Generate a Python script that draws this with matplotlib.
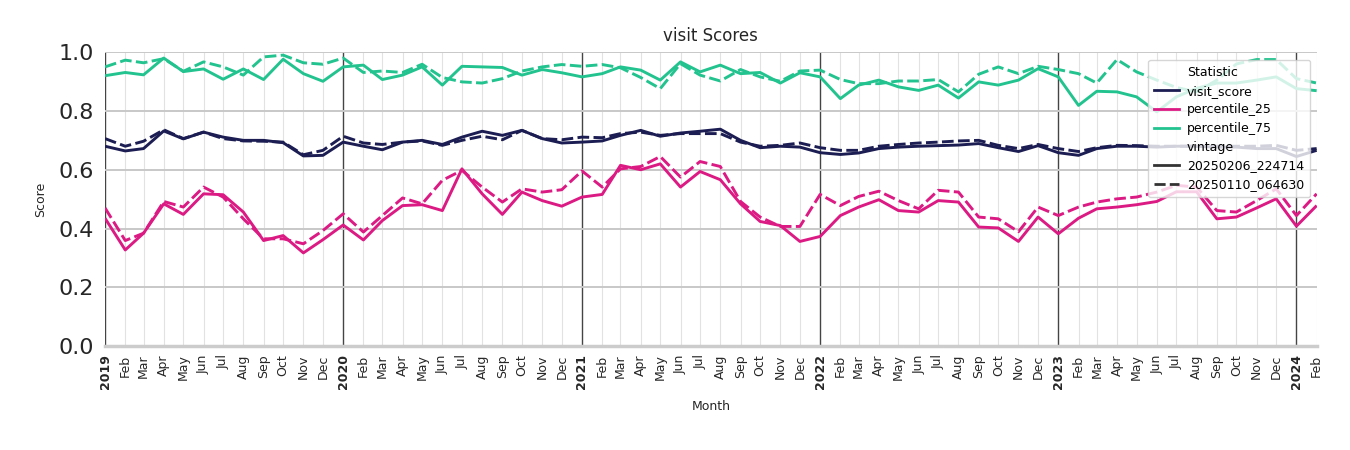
import matplotlib
matplotlib.use("Agg")
import matplotlib.pyplot as plt
import matplotlib.dates as mdates
from matplotlib.lines import Line2D
import pandas as pd

months = pd.date_range("2019-01-01", "2024-02-01", freq="MS")

visit_new = [0.68, 0.664, 0.672, 0.732, 0.705, 0.728, 0.711, 0.700, 0.700, 0.692, 0.647, 0.649,
             0.694, 0.680, 0.668, 0.694, 0.700, 0.686, 0.711, 0.731, 0.717, 0.734, 0.706, 0.691,
             0.694, 0.698, 0.717, 0.734, 0.714, 0.725, 0.731, 0.738, 0.700, 0.675, 0.680, 0.677,
             0.658, 0.652, 0.657, 0.672, 0.677, 0.680, 0.682, 0.684, 0.689, 0.675, 0.662, 0.682,
             0.658, 0.649, 0.672, 0.680, 0.680, 0.677, 0.680, 0.680, 0.677, 0.677, 0.672, 0.672,
             0.645, 0.666]
visit_old = [0.706, 0.680, 0.697, 0.736, 0.706, 0.728, 0.706, 0.698, 0.697, 0.694, 0.651, 0.666,
             0.714, 0.691, 0.686, 0.694, 0.698, 0.683, 0.700, 0.714, 0.702, 0.734, 0.706, 0.702,
             0.711, 0.709, 0.723, 0.728, 0.717, 0.723, 0.723, 0.723, 0.694, 0.680, 0.683, 0.691,
             0.675, 0.666, 0.666, 0.680, 0.686, 0.691, 0.694, 0.698, 0.700, 0.683, 0.672, 0.686,
             0.672, 0.662, 0.675, 0.683, 0.682, 0.680, 0.680, 0.680, 0.680, 0.680, 0.680, 0.683,
             0.666, 0.672]
p25_new = [0.435, 0.327, 0.384, 0.484, 0.448, 0.518, 0.515, 0.456, 0.359, 0.376, 0.317, 0.362,
           0.412, 0.361, 0.427, 0.478, 0.481, 0.461, 0.603, 0.518, 0.448, 0.524, 0.495, 0.476,
           0.507, 0.516, 0.615, 0.600, 0.620, 0.541, 0.594, 0.566, 0.484, 0.424, 0.410, 0.356,
           0.373, 0.444, 0.473, 0.498, 0.461, 0.456, 0.495, 0.490, 0.405, 0.402, 0.356, 0.439,
           0.382, 0.435, 0.467, 0.473, 0.481, 0.492, 0.525, 0.525, 0.433, 0.439, 0.470, 0.501,
           0.408, 0.478]
p25_old = [0.470, 0.359, 0.384, 0.492, 0.473, 0.541, 0.507, 0.433, 0.365, 0.365, 0.348, 0.393,
           0.450, 0.388, 0.444, 0.504, 0.484, 0.564, 0.598, 0.541, 0.490, 0.535, 0.524, 0.532,
           0.596, 0.541, 0.603, 0.611, 0.645, 0.575, 0.628, 0.611, 0.492, 0.439, 0.407, 0.407,
           0.516, 0.478, 0.509, 0.527, 0.495, 0.467, 0.530, 0.524, 0.439, 0.433, 0.389, 0.473,
           0.444, 0.473, 0.490, 0.501, 0.507, 0.524, 0.547, 0.541, 0.461, 0.456, 0.495, 0.535,
           0.444, 0.518]
p75_new = [0.920, 0.931, 0.923, 0.980, 0.934, 0.943, 0.908, 0.943, 0.907, 0.976, 0.927, 0.901,
           0.950, 0.956, 0.907, 0.922, 0.950, 0.888, 0.952, 0.950, 0.948, 0.922, 0.941, 0.930,
           0.916, 0.927, 0.950, 0.939, 0.905, 0.967, 0.933, 0.956, 0.927, 0.931, 0.895, 0.930,
           0.916, 0.842, 0.888, 0.905, 0.882, 0.870, 0.888, 0.844, 0.899, 0.888, 0.905, 0.944,
           0.916, 0.819, 0.867, 0.865, 0.848, 0.797, 0.848, 0.877, 0.895, 0.895, 0.905, 0.916,
           0.876, 0.869]
p75_old = [0.950, 0.973, 0.964, 0.978, 0.935, 0.967, 0.950, 0.922, 0.984, 0.990, 0.964, 0.959,
           0.980, 0.931, 0.936, 0.931, 0.959, 0.914, 0.899, 0.895, 0.910, 0.936, 0.950, 0.958,
           0.952, 0.958, 0.947, 0.914, 0.876, 0.961, 0.922, 0.902, 0.941, 0.916, 0.901, 0.936,
           0.939, 0.907, 0.893, 0.893, 0.902, 0.902, 0.907, 0.865, 0.925, 0.950, 0.927, 0.952,
           0.941, 0.927, 0.895, 0.975, 0.933, 0.905, 0.880, 0.865, 0.905, 0.960, 0.975, 0.975,
           0.910, 0.895]

statistics = ["visit_score", "percentile_25", "percentile_75"]
vintages = ["20250206_224714", "20250110_064630"]
colors = {"visit_score": "#1c1d52", "percentile_25": "#dc1a84", "percentile_75": "#22c38e"}
series = {
    ("visit_score", vintages[0]): visit_new,
    ("visit_score", vintages[1]): visit_old,
    ("percentile_25", vintages[0]): p25_new,
    ("percentile_25", vintages[1]): p25_old,
    ("percentile_75", vintages[0]): p75_new,
    ("percentile_75", vintages[1]): p75_old,
}

fig = plt.figure(figsize=(13.5, 4.5), dpi=100)
ax = fig.add_axes([0.0778, 0.231, 0.8975, 0.653])

for (stat, vint), vals in series.items():
    if vint == vintages[0]:
        ax.plot(months, vals, color=colors[stat], lw=2.1, solid_capstyle="butt", zorder=3)
    else:
        ax.plot(months, vals, color=colors[stat], lw=2.1, dashes=(4, 1.5), zorder=3)

ax.set_ylim(0, 1.0)
ax.set_xlim(months[0], months[-1])
ax.set_yticks([0.0, 0.2, 0.4, 0.6, 0.8, 1.0])
ax.set_yticklabels(["0.0", "0.2", "0.4", "0.6", "0.8", "1.0"], fontsize=16, color="#262626")
ax.tick_params(axis="y", length=0, pad=8)
ax.grid(axis="y", color="#c8c8c8", lw=1.4, zorder=0)

ax.set_xticks(months)
labels = [d.strftime("%Y") if d.month == 1 else d.strftime("%b") for d in months]
ax.set_xticklabels(labels, rotation=90, fontsize=9, color="#262626")
for lab, d in zip(ax.get_xticklabels(), months):
    if d.month == 1:
        lab.set_fontweight("bold")
ax.tick_params(axis="x", length=0, pad=6)
for d in months:
    if d.month == 1:
        ax.axvline(d, color="#444444", lw=1.0, zorder=1)
    else:
        ax.axvline(d, color="#e2e2e2", lw=0.8, zorder=0)

for s in ["top", "right", "left"]:
    ax.spines[s].set_visible(False)
ax.spines["bottom"].set_color("#cccccc")
ax.spines["bottom"].set_linewidth(2.5)

ax.set_title("visit Scores", fontsize=12, color="#262626", pad=8)
ax.set_ylabel("Score", fontsize=9, color="#262626", labelpad=8)
ax.set_xlabel("Month", fontsize=9, color="#262626", labelpad=8)

blank = Line2D([], [], color="none")
handles = [blank] + [Line2D([], [], color=colors[s], lw=2.0) for s in statistics] + [blank] + [
    Line2D([], [], color="#333333", lw=2.0),
    Line2D([], [], color="#333333", lw=2.0, dashes=(4, 1.5)),
]
leg_labels = ["Statistic"] + statistics + ["vintage"] + vintages
leg = ax.legend(handles, leg_labels, loc="upper right", fontsize=9, framealpha=0.8,
                edgecolor="#cccccc", borderpad=0.5, labelspacing=0.45, handlelength=2.0,
                handletextpad=0.6, bbox_to_anchor=(1.0, 0.995))
leg.set_zorder(5)

fig.savefig("out.png", dpi=100)
